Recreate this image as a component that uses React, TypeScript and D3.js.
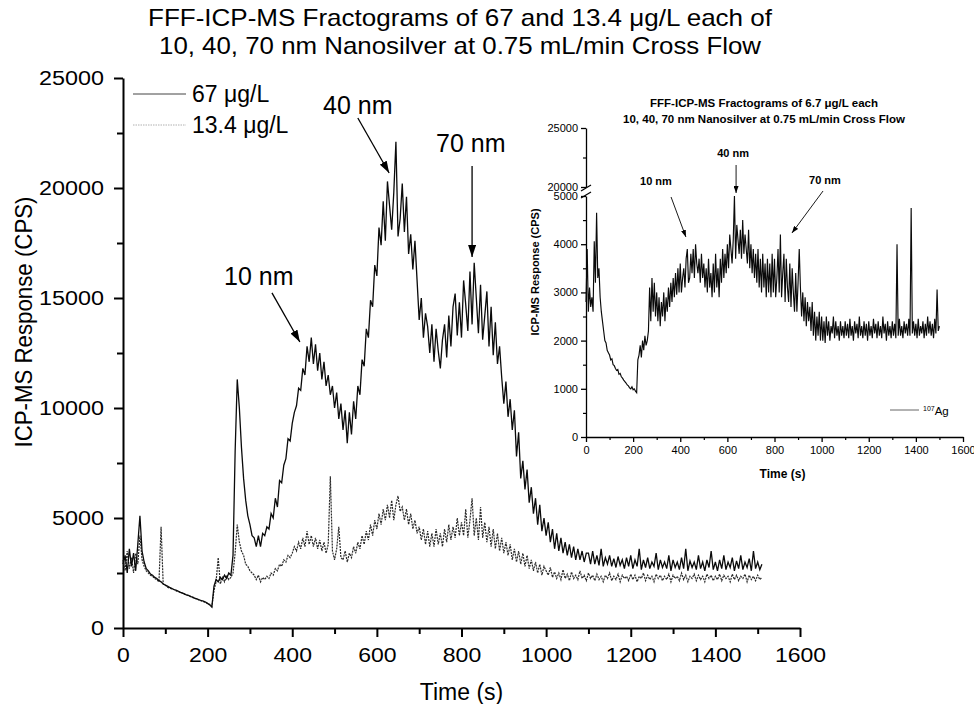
import React, { useEffect, useRef } from "react";
import * as d3 from "d3";

// titles / labels
const mainTitle = [
  "FFF-ICP-MS Fractograms of 67 and 13.4 μg/L each of",
  "10, 40, 70 nm Nanosilver at 0.75 mL/min Cross Flow",
];
const insetTitle = [
  "FFF-ICP-MS Fractograms of 6.7 μg/L each",
  "10, 40, 70 nm Nanosilver at 0.75 mL/min Cross Flow",
];
const seriesNames = ["67 μg/L", "13.4 μg/L"];

// ticks
const xTicks = [0, 200, 400, 600, 800, 1000, 1200, 1400, 1600];
const xMinor = [100, 300, 500, 700, 900, 1100, 1300, 1500];
const yTicks = [0, 5000, 10000, 15000, 20000, 25000];
const yMinor = [2500, 7500, 12500, 17500, 22500];
const insetYLow = [0, 1000, 2000, 3000, 4000, 5000];
const insetYLowMinor = [500, 1500, 2500, 3500, 4500];
const insetYHigh = [20000, 25000];
const insetYHighMinor = [22500];

// 67 ug/L, one reading every 5 s from t = 0
const step67 = 5;
const values67 = [
  2900, 3300, 2500, 3600, 2800, 3400, 2600, 3800, 5100, 3500, 3000, 2700, 2600, 2450, 2400, 2300, 2250, 2150, 2100, 2000,
  1950, 1900, 1850, 1800, 1750, 1720, 1680, 1620, 1600, 1550, 1500, 1480, 1430, 1400, 1350, 1320, 1280, 1250, 1220, 1180,
  1120, 1050, 950, 1900, 2200, 2100, 2300, 2200, 2400, 2250, 2500, 2400, 3300, 8000, 11300, 10000, 8200, 6800, 5800, 5100,
  4700, 4200, 4100, 3700, 4200, 3700, 4300, 4200, 4600, 4500, 5200, 5000, 5900, 5500, 6700, 6600, 7400, 7700, 8600, 8500,
  9300, 9800, 10100, 10900, 10800, 11800, 11500, 12800, 12100, 13200, 12000, 12900, 11700, 12500, 11300, 12100, 11000, 11500, 10600, 11000,
  10000, 10700, 9500, 10200, 9000, 9900, 8400, 9800, 8800, 10300, 9500, 11000, 10600, 12200, 11900, 13600, 13200, 14900, 14600, 16500,
  16000, 18200, 17400, 19400, 17600, 20300, 19200, 18100, 19800, 22100, 17800, 18600, 20200, 18000, 19600, 17000, 17900, 16300, 17600, 15800,
  14000, 15000, 13200, 14300, 13700, 12500, 13800, 12100, 13600, 12600, 11800, 13100, 13800, 12300, 14200, 12800, 14600, 15200, 13300, 14800,
  13200, 15800, 14700, 13500, 16200, 13800, 16600, 15000, 13400, 15600, 13100, 14200, 15300, 12800, 14600, 12400, 13900, 12000, 12800, 11400,
  10200, 11200, 9600, 10400, 9000, 9900, 7800, 8900, 6800, 7600, 6300, 7200, 5700, 6400, 5200, 5900, 4700, 5600, 4400, 5000,
  4200, 4800, 3900, 4500, 3600, 4300, 3500, 4100, 3400, 3900, 3300, 3800, 3200, 3700, 3100, 3600, 3100, 3500, 3000, 3400,
  3400, 2900, 3500, 2900, 3300, 2850, 3600, 2800, 3200, 2900, 3300, 2800, 3150, 2750, 3250, 2850, 3100, 2700, 3200, 2800,
  3300, 2700, 3100, 2800, 3600, 2650, 3100, 2750, 3200, 2700, 3000, 2800, 3400, 2650, 3100, 2750, 3000, 2700, 3300, 2600,
  3100, 2750, 3000, 2650, 3200, 2700, 3600, 2600, 3050, 2750, 3000, 2650, 3300, 2700, 3000, 2600, 3100, 2750, 3500, 2650,
  3000, 2600, 3100, 2700, 3300, 2650, 3000, 2750, 3200, 2600, 3050, 2700, 3300, 2650, 3000, 2750, 3150, 2600, 3500, 2700,
  3000, 2650, 2900,
];

// 13.4 ug/L, one reading every 5 s from t = 0
const values134 = [
  3100, 2600, 3500, 2700, 3200, 2500, 3400, 2900, 4200, 3100, 2800, 2600, 2500, 2400, 2350, 2250, 2200, 2100, 4600, 2000,
  1950, 1850, 1820, 1780, 1750, 1700, 1650, 1640, 1580, 1540, 1500, 1460, 1440, 1380, 1360, 1300, 1280, 1230, 1200, 1170,
  1100, 1080, 980, 1700, 2100, 3200, 2000, 2300, 2100, 2400, 2200, 2300, 2500, 3400, 4700, 3900, 3500, 3300, 2900, 2800,
  2600, 2500, 2400, 2200, 2400, 2100, 2300, 2200, 2350, 2250, 2500, 2400, 2700, 2600, 2900, 2800, 3100, 3000, 3300, 3200,
  3400, 3700, 3500, 3900, 3600, 4100, 3700, 4400, 3800, 4200, 3700, 4100, 3600, 4000, 3500, 3900, 3400, 3800, 6900, 3500,
  3100, 3600, 4600, 3200, 3100, 3500, 3000, 3400, 3200, 3700, 3400, 3900, 3600, 4200, 3800, 4400, 4000, 4700, 4200, 4900,
  4500, 5200, 4700, 5400, 4900, 5600, 5000, 5800, 4900, 5600, 6000, 5300, 5500, 4900, 5400, 4700, 5200, 4500, 4900, 4300,
  4600, 4000, 4500, 3800, 4400, 3700, 4300, 3700, 4500, 3800, 4300, 3700, 4500, 3900, 4700, 4000, 4600, 4100, 5000, 4200,
  4800, 4200, 5400, 4100, 4900, 5900, 4200, 5000, 4000, 5500, 4100, 4800, 3900, 4600, 3700, 4500, 3600, 4300, 3500, 4100,
  3400, 3900, 3300, 3800, 3100, 3600, 3000, 3500, 2900, 3400, 2800, 3300, 2700, 3100, 2600, 3000, 2500, 2900, 2400, 2800,
  2600, 2400, 2750, 2300, 2550, 2250, 2500, 2200, 2650, 2250, 2450, 2150, 2550, 2250, 2400, 2200, 2600, 2250, 2400, 2150,
  2500, 2250, 2400, 2150, 2450, 2200, 2350, 2100, 2400, 2250, 2500, 2150, 2350, 2200, 2450, 2100, 2400, 2250, 2350, 2150,
  2450, 2200, 2400, 2100, 2350, 2250, 2500, 2150, 2400, 2200, 2350, 2100, 2450, 2250, 2400, 2150, 2350, 2200, 2450, 2100,
  2400, 2250, 2350, 2150, 2500, 2200, 2400, 2100, 2350, 2250, 2450, 2150, 2400, 2200, 2350, 2100, 2450, 2250, 2400, 2150,
  2350, 2200, 2450, 2150, 2400, 2250, 2350, 2100, 2450, 2200, 2400, 2150, 2350, 2250, 2450, 2100, 2400, 2200, 2350, 2150,
  2400, 2200, 2300,
];

// inset, 6.7 ug/L (107Ag), one reading every 5 s from t = 0
const stepInset = 5;
const valuesInset = [
  2800, 3900, 2600, 3100, 2700, 2900, 2600, 4060, 3200, 4650, 3300, 3500, 2900, 2600, 2400, 2200, 2000, 1950, 1800, 1750,
  1700, 1600, 1620, 1500, 1480, 1420, 1380, 1400, 1300, 1320, 1250, 1220, 1180, 1150, 1120, 1080, 1060, 1020, 1000, 1040,
  980, 1000, 950, 920, 1600, 1700, 1900, 1650, 2000, 1800, 2100, 1900, 2000, 2200, 3100, 2400, 3300, 2600, 3200, 2500,
  3000, 2400, 2900, 2300, 2800, 2500, 3000, 2400, 2900, 2600, 3100, 2700, 3200, 2800, 3300, 2900, 3400, 2950, 3500, 3000,
  3600, 3000, 3300, 3500, 3100, 3700, 3900, 3200, 3300, 3800, 3400, 3900, 3300, 4000, 3600, 3400, 3700, 3200, 3800, 3300,
  3600, 3100, 3500, 3000, 3700, 3100, 3400, 2900, 3600, 3000, 3800, 3100, 3500, 2900, 3700, 3200, 3900, 3300, 3800, 3400,
  4000, 3500, 4200, 3900, 3600, 4100, 5000, 3700, 4400, 4100, 3800, 4300, 3700, 4500, 3800, 4200, 3900, 3600, 4300, 3500,
  4000, 3400, 3900, 3300, 3800, 3200, 3900, 3100, 3700, 3000, 3800, 3100, 3600, 2900, 3700, 3000, 3600, 2900, 3800, 3000,
  3700, 2900, 3300, 3900, 3000, 4200, 2900, 3400, 3800, 2800, 3700, 3100, 2800, 3600, 2700, 3500, 3000, 2600, 3400, 2600,
  3200, 3900, 3100, 2500, 3000, 2400, 2900, 2300, 2800, 2400, 2700, 2200, 2800, 2100, 2600, 2000, 2500, 2100, 2600, 2000,
  2500, 2000, 2400, 1950, 2500, 2100, 2400, 2000, 2300, 2150, 2500, 2050, 2400, 2100, 2300, 2000, 2400, 2100, 2300, 2050,
  2400, 2100, 2350, 2050, 2450, 2100, 2300, 2000, 2400, 2150, 2350, 2050, 2500, 2100, 2300, 2050, 2400, 2100, 2350, 2000,
  2400, 2100, 2300, 2050, 2450, 2150, 2350, 2050, 2400, 2100, 2300, 2050, 2500, 2150, 2350, 2000, 2400, 2100, 2300, 2050,
  2400, 2100, 2350, 2050, 4000, 2100, 2450, 2100, 2300, 2050, 2400, 2150, 2350, 2100, 2450, 2100, 4750, 2150, 2400, 2100,
  2350, 2050, 2450, 2100, 2300, 2150, 2400, 2050, 2350, 2100, 2500, 2150, 2400, 2100, 2350, 2050, 2450, 2150, 3060, 2200,
  2300,
];

// peak annotations in data units: text point, arrow start, arrow tip
const mainPeaks = [
  { label: "10 nm", text: [321, 16000], from: [352, 15230], to: [418, 13000] },
  { label: "40 nm", text: [555, 23770], from: [555, 23180], to: [629, 20680] },
  { label: "70 nm", text: [822, 22040], from: [825, 21000], to: [825, 16860] },
];
const insetPeaks = [
  { label: "10 nm", text: [297, 5310], from: [361, 4979], to: [424, 4149] },
  { label: "40 nm", text: [624, 5892], from: [637, 5643], to: [637, 5062] },
  { label: "70 nm", text: [1014, 5332], from: [1006, 5104], to: [874, 4232] },
];

const FONT = "'Liberation Sans', Arial, Helvetica, sans-serif";

const App: React.FC = () => {
  const svgRef = useRef<SVGSVGElement | null>(null);

  useEffect(() => {
    if (!svgRef.current) return;
    const svg = d3.select(svgRef.current);
    svg.selectAll("*").remove();

    const width = 974;
    const height = 704;
    svg.attr("width", width).attr("height", height).attr("viewBox", [0, 0, width, height]);

    const defs = svg.append("defs");
    const marker = (id: string, len: number, wid: number) =>
      defs
        .append("marker")
        .attr("id", id)
        .attr("markerUnits", "userSpaceOnUse")
        .attr("viewBox", `0 0 ${len} ${wid}`)
        .attr("refX", len)
        .attr("refY", wid / 2)
        .attr("markerWidth", len)
        .attr("markerHeight", wid)
        .attr("orient", "auto")
        .append("path")
        .attr("d", `M0,0L${len},${wid / 2}L0,${wid}Z`)
        .attr("fill", "#000");
    marker("headMain", 12, 8);
    marker("headInset", 7, 5);

    // ---------- main chart ----------
    const x = d3.scaleLinear().domain([0, 1600]).range([123, 800]);
    const y = d3.scaleLinear().domain([0, 25000]).range([628, 78]);

    const styleAxis = (
      g: d3.Selection<SVGGElement, unknown, null, undefined>,
      sw: number,
      fs: number,
      digitW = 0
    ) => {
      g.attr("font-family", FONT).attr("font-size", fs);
      g.selectAll(".domain").attr("stroke-width", sw);
      g.selectAll(".tick line").attr("stroke-width", sw);
      const txt = g.selectAll<SVGTextElement, number>(".tick text").attr("fill", "#000");
      if (digitW > 0)
        txt.attr("textLength", (d) => String(d).length * digitW).attr("lengthAdjust", "spacingAndGlyphs");
    };

    svg
      .append("g")
      .attr("transform", `translate(0,${y(0)})`)
      .call(d3.axisBottom(x).tickValues(xMinor).tickSize(6).tickSizeOuter(0).tickFormat(() => ""))
      .call((g) => g.select(".domain").remove())
      .call((g) => g.selectAll(".tick line").attr("stroke-width", 2));
    svg
      .append("g")
      .attr("transform", `translate(${x(0)},0)`)
      .call(d3.axisLeft(y).tickValues(yMinor).tickSize(6).tickSizeOuter(0).tickFormat(() => ""))
      .call((g) => g.select(".domain").remove())
      .call((g) => g.selectAll(".tick line").attr("stroke-width", 2));
    svg
      .append("g")
      .attr("transform", `translate(0,${y(0)})`)
      .call(d3.axisBottom(x).tickValues(xTicks).tickSize(9).tickPadding(11).tickSizeOuter(0).tickFormat(d3.format("d")))
      .call((g) => styleAxis(g, 2, 19.5, 12.8));
    svg
      .append("g")
      .attr("transform", `translate(${x(0)},0)`)
      .call(d3.axisLeft(y).tickValues(yTicks).tickSize(9).tickPadding(10).tickSizeOuter(0).tickFormat(d3.format("d")))
      .call((g) => styleAxis(g, 2, 19.5, 13));

    const lineMain = d3
      .line<number>()
      .x((_, i) => x(i * step67))
      .y((d) => y(d));

    svg
      .append("path")
      .datum(values134)
      .attr("fill", "none")
      .attr("stroke", "#2a2a2a")
      .attr("stroke-width", 1.2)
      .attr("stroke-dasharray", "2,1")
      .attr("d", lineMain);
    svg
      .append("path")
      .datum(values67)
      .attr("fill", "none")
      .attr("stroke", "#0a0a0a")
      .attr("stroke-width", 1.3)
      .attr("d", lineMain);

    // titles and axis labels
    const title = svg
      .append("text")
      .attr("font-family", FONT)
      .attr("font-size", 24)
      .attr("text-anchor", "middle");
    mainTitle.forEach((t, i) =>
      title
        .append("tspan")
        .attr("x", 460)
        .attr("y", 26 + i * 28)
        .attr("textLength", i === 0 ? 624 : 602)
        .attr("lengthAdjust", "spacingAndGlyphs")
        .text(t)
    );

    svg
      .append("text")
      .attr("font-family", FONT)
      .attr("font-size", 24)
      .attr("text-anchor", "middle")
      .attr("textLength", 251)
      .attr("lengthAdjust", "spacingAndGlyphs")
      .attr("transform", `translate(32,322) rotate(-90)`)
      .text("ICP-MS Response (CPS)");
    svg
      .append("text")
      .attr("font-family", FONT)
      .attr("font-size", 23)
      .attr("text-anchor", "middle")
      .attr("x", (x(0) + x(1600)) / 2)
      .attr("y", 700)
      .text("Time (s)");

    // legend
    seriesNames.forEach((name, i) => {
      const ly = 94 + i * 31;
      svg
        .append("line")
        .attr("x1", 133)
        .attr("x2", 186)
        .attr("y1", ly)
        .attr("y2", ly)
        .attr("stroke", i === 0 ? "#444" : "#b0b0b0")
        .attr("stroke-width", 1)
        .attr("stroke-dasharray", i === 0 ? null : "1.5,1");
      svg
        .append("text")
        .attr("font-family", FONT)
        .attr("font-size", 23)
        .attr("x", 192)
        .attr("y", ly + 8)
        .text(name);
    });

    // peak arrows
    mainPeaks.forEach((p) => {
      svg
        .append("text")
        .attr("font-family", FONT)
        .attr("font-size", 25)
        .attr("text-anchor", "middle")
        .attr("dominant-baseline", "central")
        .attr("x", x(p.text[0]))
        .attr("y", y(p.text[1]))
        .text(p.label);
      svg
        .append("line")
        .attr("x1", x(p.from[0]))
        .attr("y1", y(p.from[1]))
        .attr("x2", x(p.to[0]))
        .attr("y2", y(p.to[1]))
        .attr("stroke", "#000")
        .attr("stroke-width", 1.3)
        .attr("marker-end", "url(#headMain)");
    });

    // ---------- inset ----------
    const xi = d3.scaleLinear().domain([0, 1600]).range([586, 963]);
    const yLow = d3.scaleLinear().domain([0, 5000]).range([437, 196]);
    const yHigh = d3.scaleLinear().domain([20000, 25000]).range([187, 128]);

    svg
      .append("g")
      .attr("transform", `translate(0,${yLow(0)})`)
      .call(d3.axisBottom(xi).tickValues(xMinor).tickSize(3).tickSizeOuter(0).tickFormat(() => ""))
      .call((g) => g.select(".domain").remove())
      .call((g) => g.selectAll(".tick line").attr("stroke-width", 1.2));
    svg
      .append("g")
      .attr("transform", `translate(0,${yLow(0)})`)
      .call(d3.axisBottom(xi).tickValues(xTicks).tickSize(5).tickPadding(4).tickSizeOuter(0).tickFormat(d3.format("d")))
      .call((g) => styleAxis(g, 1.3, 11));
    [
      { s: yLow, major: insetYLow, minor: insetYLowMinor },
      { s: yHigh, major: insetYHigh, minor: insetYHighMinor },
    ].forEach(({ s, major, minor }) => {
      svg
        .append("g")
        .attr("transform", `translate(${xi(0)},0)`)
        .call(d3.axisLeft(s).tickValues(minor).tickSize(3).tickSizeOuter(0).tickFormat(() => ""))
        .call((g) => g.select(".domain").remove())
        .call((g) => g.selectAll(".tick line").attr("stroke-width", 1.2));
      svg
        .append("g")
        .attr("transform", `translate(${xi(0)},0)`)
        .call(d3.axisLeft(s).tickValues(major).tickSize(5).tickPadding(3).tickSizeOuter(0).tickFormat(d3.format("d")))
        .call((g) => styleAxis(g, 1.3, 11));
    });

    // axis break marks
    const bx = xi(0);
    [yHigh(20000) + 1, yLow(5000) - 1].forEach((by) => {
      svg
        .append("line")
        .attr("x1", bx - 5)
        .attr("x2", bx + 5)
        .attr("y1", by + 3)
        .attr("y2", by - 3)
        .attr("stroke", "#000")
        .attr("stroke-width", 1.2);
    });

    const lineInset = d3
      .line<number>()
      .x((_, i) => xi(i * stepInset))
      .y((d) => yLow(d));
    svg
      .append("path")
      .datum(valuesInset)
      .attr("fill", "none")
      .attr("stroke", "#0a0a0a")
      .attr("stroke-width", 1.15)
      .attr("d", lineInset);

    const it = svg
      .append("text")
      .attr("font-family", FONT)
      .attr("font-size", 11.5)
      .attr("font-weight", "bold")
      .attr("text-anchor", "middle");
    insetTitle.forEach((t, i) => it.append("tspan").attr("x", 764).attr("y", 107 + i * 16).text(t));

    svg
      .append("text")
      .attr("font-family", FONT)
      .attr("font-size", 11)
      .attr("font-weight", "bold")
      .attr("text-anchor", "middle")
      .attr("transform", `translate(539,272) rotate(-90)`)
      .text("ICP-MS Response (CPS)");
    svg
      .append("text")
      .attr("font-family", FONT)
      .attr("font-size", 12)
      .attr("font-weight", "bold")
      .attr("text-anchor", "middle")
      .attr("x", (xi(0) + xi(1600)) / 2 + 8)
      .attr("y", 478)
      .text("Time (s)");

    // inset legend
    svg
      .append("line")
      .attr("x1", 890)
      .attr("x2", 919)
      .attr("y1", 410)
      .attr("y2", 410)
      .attr("stroke", "#666")
      .attr("stroke-width", 1);
    const lg = svg.append("text").attr("font-family", FONT).attr("x", 923).attr("y", 415);
    lg.append("tspan").attr("font-size", 7).attr("dy", -4).text("107");
    lg.append("tspan").attr("font-size", 11.5).attr("dy", 4).text("Ag");

    insetPeaks.forEach((p) => {
      svg
        .append("text")
        .attr("font-family", FONT)
        .attr("font-size", 11)
        .attr("font-weight", "bold")
        .attr("text-anchor", "middle")
        .attr("dominant-baseline", "central")
        .attr("x", xi(p.text[0]))
        .attr("y", yLow(p.text[1]))
        .text(p.label);
      svg
        .append("line")
        .attr("x1", xi(p.from[0]))
        .attr("y1", yLow(p.from[1]))
        .attr("x2", xi(p.to[0]))
        .attr("y2", yLow(p.to[1]))
        .attr("stroke", "#000")
        .attr("stroke-width", 0.9)
        .attr("marker-end", "url(#headInset)");
    });

    return () => {
      svg.selectAll("*").remove();
    };
  }, []);

  return (
    <svg
      ref={svgRef}
      style={{ position: "absolute", left: 0, top: 0, background: "#fff" }}
    ></svg>
  );
};

export default App;
